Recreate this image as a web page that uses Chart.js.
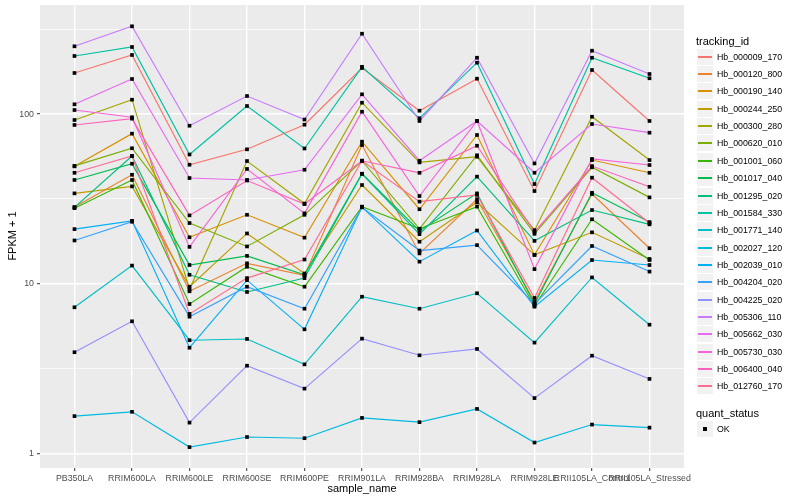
<!DOCTYPE html>
<html>
<head>
<meta charset="utf-8">
<script src="https://cdn.jsdelivr.net/npm/chart.js@4/dist/chart.umd.min.js"></script>
<style>
  body { margin: 0; background: #ffffff; }
  #wrap { position: relative; width: 800px; height: 500px; font-family: "Liberation Sans", Arial, sans-serif; }
  canvas { position: absolute; left: 0; top: 0; }
  .t { position: absolute; white-space: nowrap; color: #000; }
  .key { position: absolute; width: 16px; height: 16px; background: #F2F2F2; }
  .kline { position: absolute; left: 1px; width: 14px; top: 7px; height: 1.5px; }
  .kdot { position: absolute; left: 6px; top: 6px; width: 4px; height: 4px; background: #000; }
</style>
</head>
<body>
<div id="wrap">
  <canvas id="c" width="800" height="500"></canvas>
</div>
<script>
// ---- data ----
const categories = ['PB350LA','RRIM600LA','RRIM600LE','RRIM600SE','RRIM600PE','RRIM901LA','RRIM928BA','RRIM928LA','RRIM928LE','RRII105LA_Control','RRII105LA_Stressed'];
const trackingIds = ['Hb_000009_170','Hb_000120_800','Hb_000190_140','Hb_000244_250','Hb_000300_280','Hb_000620_010','Hb_001001_060','Hb_001017_040','Hb_001295_020','Hb_001584_330','Hb_001771_140','Hb_002027_120','Hb_002039_010','Hb_004204_020','Hb_004225_020','Hb_005306_110','Hb_005662_030','Hb_005730_030','Hb_006400_040','Hb_012760_170'];
const yTickValues = [1, 10, 100];
const yMinorValues = [3.1623, 31.623, 316.23];
const quantStatus = ['OK'];

const Hb_000009_170 = [174.7, 223.0, 50.3, 62.0, 86.6, 186.9, 104.7, 161.7, 35.2, 181.9, 91.1];
const Hb_000120_800 = [28.3, 43.9, 9.03, 13.2, 11.2, 65.7, 15.1, 31.5, 7.84, 33.8, 16.2];
const Hb_000190_140 = [49.2, 76.7, 18.8, 25.5, 18.7, 68.8, 27.5, 75.3, 14.8, 53.6, 45.1];
const Hb_000244_250 = [34.1, 37.5, 9.61, 19.8, 11.5, 38.2, 17.7, 30.2, 14.8, 20.1, 14.0];
const Hb_000300_280 = [92.3, 121.6, 9.28, 52.9, 29.7, 116.7, 51.9, 56.1, 20.7, 96.5, 53.6];
const Hb_000620_010 = [49.5, 62.9, 22.8, 16.6, 25.5, 53.1, 21.1, 57.2, 19.7, 48.6, 32.3];
const Hb_001001_060 = [27.9, 40.9, 7.60, 12.6, 9.61, 28.5, 21.1, 28.5, 7.40, 24.0, 13.8];
const Hb_001017_040 = [40.9, 51.0, 12.9, 14.6, 11.3, 44.5, 20.5, 34.1, 7.60, 34.4, 23.1];
const Hb_001295_020 = [28.2, 56.6, 11.3, 8.95, 10.8, 44.5, 19.6, 42.8, 17.9, 27.2, 22.4];
const Hb_001584_330 = [220.0, 248.6, 57.8, 111.6, 62.7, 190.0, 94.5, 200.9, 38.7, 214.9, 162.6];
const Hb_001771_140 = [7.27, 12.8, 4.65, 4.73, 3.35, 8.39, 7.13, 8.79, 4.50, 10.9, 5.74];
const Hb_002027_120 = [1.66, 1.76, 1.09, 1.25, 1.23, 1.62, 1.53, 1.83, 1.16, 1.48, 1.42];
const Hb_002039_010 = [21.0, 23.5, 4.20, 10.5, 5.39, 28.3, 13.5, 20.6, 7.33, 13.8, 12.9];
const Hb_004204_020 = [18.0, 23.2, 6.40, 9.61, 7.13, 28.2, 15.7, 16.9, 7.60, 16.7, 11.8];
const Hb_004225_020 = [3.95, 6.01, 1.52, 3.29, 2.41, 4.75, 3.79, 4.13, 2.12, 3.77, 2.75];
const Hb_005306_110 = [250.9, 329.2, 85.4, 127.8, 92.9, 297.7, 91.1, 214.9, 51.2, 236.4, 172.3];
const Hb_005662_030 = [114.2, 161.0, 42.0, 40.9, 47.0, 130.8, 53.1, 91.1, 45.1, 87.4, 77.7];
const Hb_005730_030 = [105.7, 95.8, 16.5, 47.5, 26.0, 103.3, 32.9, 91.1, 12.2, 54.4, 50.1];
const Hb_006400_040 = [86.3, 94.0, 25.3, 40.6, 29.5, 53.1, 45.1, 65.1, 20.2, 49.4, 37.3];
const Hb_012760_170 = [45.1, 56.6, 6.64, 10.8, 13.9, 53.1, 30.5, 33.4, 8.25, 42.2, 22.8];

const seriesValues = [Hb_000009_170, Hb_000120_800, Hb_000190_140, Hb_000244_250, Hb_000300_280, Hb_000620_010, Hb_001001_060, Hb_001017_040, Hb_001295_020, Hb_001584_330, Hb_001771_140, Hb_002027_120, Hb_002039_010, Hb_004204_020, Hb_004225_020, Hb_005306_110, Hb_005662_030, Hb_005730_030, Hb_006400_040, Hb_012760_170];

// ---- styles ----
const palette = ['#F8766D','#EA8331','#D89000','#C09B00','#A3A500','#7CAE00','#39B600','#00BB4E','#00BF7D','#00C1A3','#00BFC4','#00BAE0','#00B0F6','#35A2FF','#9590FF','#C77CFF','#E76BF3','#FA62DB','#FF62BC','#FF6C91'];

const datasets = [];
seriesValues.forEach((vals, i) => {
  const pts = vals.map((v, j) => ({ x: j, y: v }));
  datasets.push({
    label: trackingIds[i],
    data: pts,
    borderColor: palette[i],
    backgroundColor: palette[i],
    borderWidth: 1.15,
    pointRadius: 0,
    tension: 0,
    order: 100 - i
  });
  datasets.push({
    label: trackingIds[i] + ' points',
    data: pts,
    showLine: false,
    pointStyle: 'rect',
    pointRadius: 2.6,
    pointBackgroundColor: '#000000',
    pointBorderWidth: 0,
    order: -1
  });
});

const panelBg = {
  id: 'panelBg',
  beforeDraw(chart) {
    const a = chart.chartArea, ctx = chart.ctx;
    ctx.save();
    ctx.fillStyle = '#EBEBEB';
    ctx.fillRect(a.left, a.top, a.right - a.left, a.bottom - a.top);
    ctx.restore();
  }
};

const allY = yTickValues.concat(yMinorValues).sort((a, b) => a - b);
const isMajorY = v => yTickValues.some(t => Math.abs(t - v) < 1e-6);
const tickFont = { family: '"Liberation Sans", Arial, sans-serif', size: 8.8 };

new Chart(document.getElementById('c'), {
  type: 'line',
  data: { datasets },
  plugins: [panelBg],
  options: {
    responsive: false,
    animation: false,
    devicePixelRatio: 1,
    layout: { padding: { left: 0, top: 5, right: 116, bottom: 0 } },
    plugins: { legend: { display: false }, tooltip: { enabled: false } },
    scales: {
      x: {
        type: 'linear',
        min: -0.6,
        max: 10.6,
        afterBuildTicks(scale) { scale.ticks = categories.map((c, i) => ({ value: i })); },
        afterFit(scale) { scale.height = 32; scale.paddingLeft = 0; scale.paddingRight = 0; },
        ticks: {
          autoSkip: false, maxRotation: 0, minRotation: 0, padding: 2,
          color: '#4D4D4D', font: tickFont,
          callback: (v) => categories[Math.round(v)]
        },
        grid: { color: '#FFFFFF', lineWidth: 1.4, drawTicks: true, tickLength: 3, tickColor: '#333333', tickWidth: 1 },
        border: { display: false }
      },
      y: {
        type: 'logarithmic',
        min: 0.821,
        max: 439.5,
        afterBuildTicks(scale) { scale.ticks = allY.map(v => ({ value: v })); },
        afterFit(scale) { scale.width = 40; scale.paddingTop = 0; scale.paddingBottom = 0; },
        ticks: {
          autoSkip: false, padding: 3, color: '#4D4D4D', font: tickFont,
          callback: (v) => isMajorY(v) ? String(Math.round(v)) : ''
        },
        grid: {
          color: '#FFFFFF',
          lineWidth: ctx => (ctx.tick && isMajorY(ctx.tick.value)) ? 1.4 : 0.7,
          drawTicks: true, tickLength: 3, tickWidth: 1,
          tickColor: ctx => (ctx.tick && isMajorY(ctx.tick.value)) ? '#333333' : 'rgba(0,0,0,0)'
        },
        border: { display: false }
      }
    }
  }
});

// ---- axis titles and legend (HTML text) ----
const wrap = document.getElementById('wrap');
function addText(txt, left, top, size, extra) {
  const d = document.createElement('div');
  d.className = 't';
  d.textContent = txt;
  d.style.left = left + 'px';
  d.style.top = top + 'px';
  d.style.fontSize = size + 'px';
  d.style.lineHeight = '14px';
  if (extra) Object.assign(d.style, extra);
  wrap.appendChild(d);
  return d;
}
// x title
addText('sample_name', 312, 481, 11, { width: '100px', textAlign: 'center' });
// y title
addText('FPKM + 1', -38, 229, 11, { width: '100px', textAlign: 'center', transform: 'rotate(-90deg)' });

// legend: tracking_id
addText('tracking_id', 696, 33.5, 11);
trackingIds.forEach((id, i) => {
  const cy = 56.7 + 17.35 * i;
  const k = document.createElement('div');
  k.className = 'key';
  k.style.left = '697px';
  k.style.top = Math.round(cy - 8) + 'px';
  const ln = document.createElement('div');
  ln.className = 'kline';
  ln.style.background = palette[i];
  k.appendChild(ln);
  wrap.appendChild(k);
  addText(id, 717, Math.round(cy - 7), 8.8);
});
// legend: quant_status
addText('quant_status', 696, 405.5, 11);
quantStatus.forEach((q, i) => {
  const cy = 429.3 + 17.35 * i;
  const k = document.createElement('div');
  k.className = 'key';
  k.style.left = '697px';
  k.style.top = Math.round(cy - 8) + 'px';
  const dt = document.createElement('div');
  dt.className = 'kdot';
  k.appendChild(dt);
  wrap.appendChild(k);
  addText(q, 717, Math.round(cy - 7), 8.8);
});
</script>
</body>
</html>
